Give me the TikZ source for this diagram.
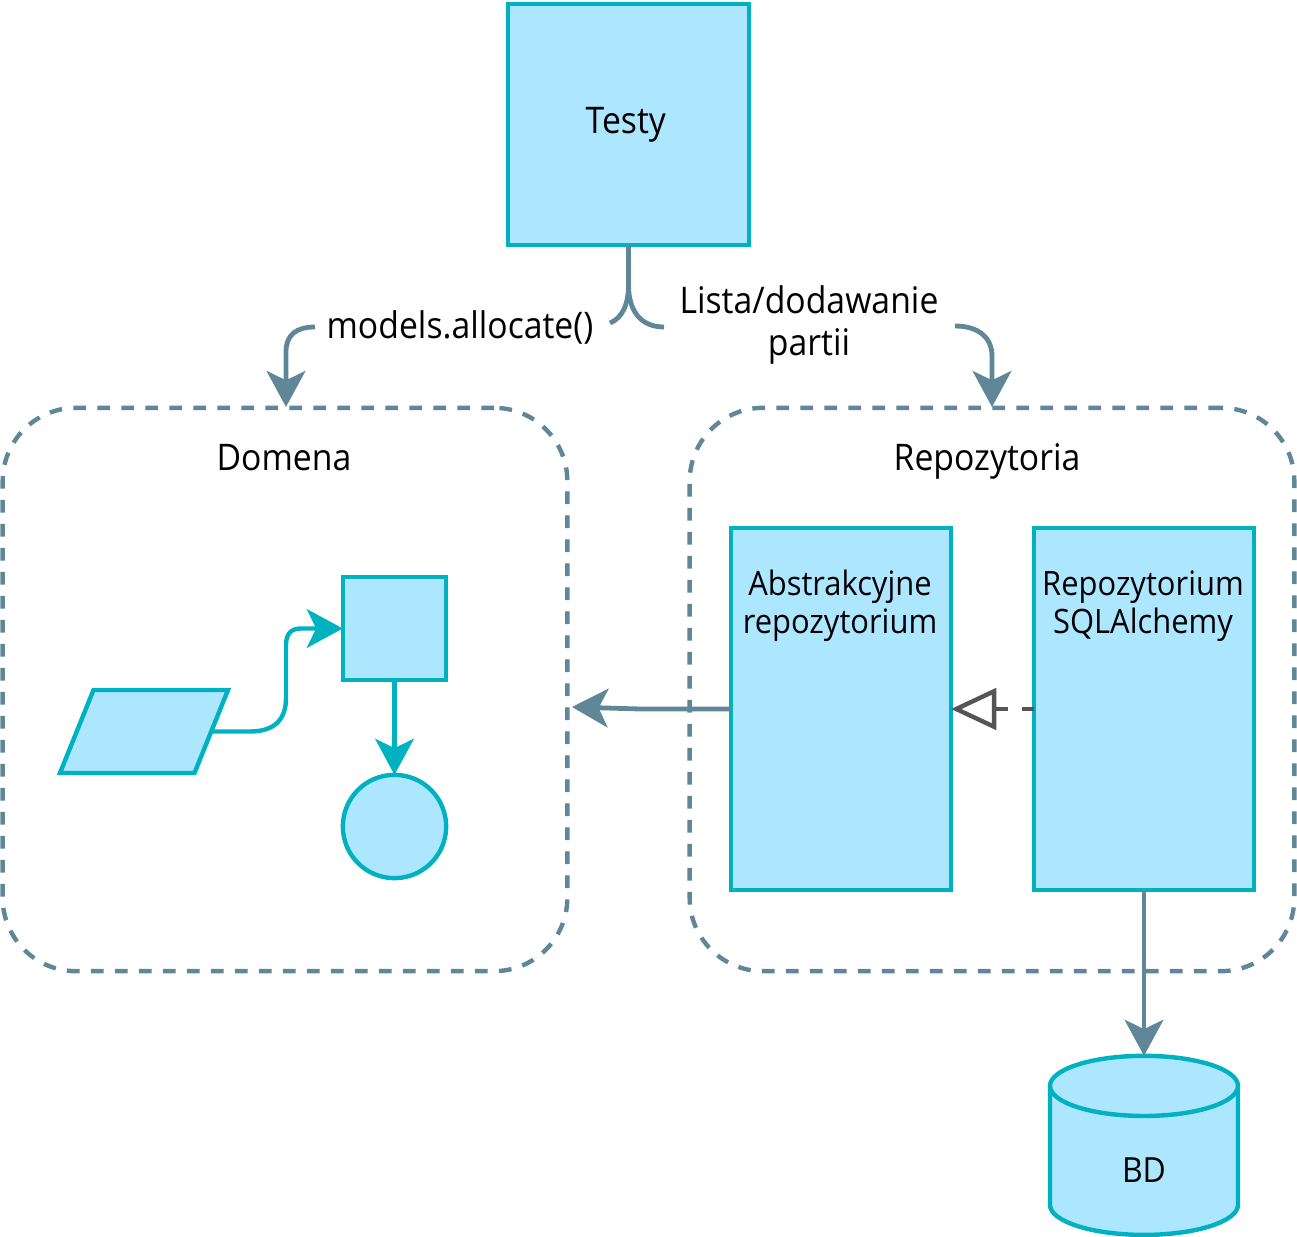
\documentclass[tikz,border=0pt]{standalone}
\usepackage{fontspec}
\setmainfont[FakeStretch=0.92]{Open Sans}
\usetikzlibrary{arrows.meta,shapes.geometric,positioning}
\definecolor{cyanline}{HTML}{00B2C1}
\definecolor{cyanfill}{HTML}{ADE6FF}
\definecolor{slate}{HTML}{5F8798}
\definecolor{grayline}{HTML}{555555}
\tikzset{
  pxu/.style={x=0.75pt,y=-0.75pt},
  filled/.style={draw=cyanline,fill=cyanfill,line width=3.3pt,outer sep=0pt,inner sep=0pt,align=center,text=black},
  biglabel/.style={font=\fontsize{27.5}{31.5}\selectfont,inner sep=0pt,align=center,text=black},
  boxlabel/.style={font=\fontsize{25.2}{28.5}\selectfont,inner sep=0pt,align=center,text=black},
  zone/.style={draw=slate,line width=3.3pt,rounded corners=55pt,dash pattern=on 9.5pt off 8.5pt,outer sep=0pt,inner sep=0pt},
  slatehead/.style={-{Stealth[length=27pt,width=29pt,inset=7pt,fill=slate]}},
  cyanhead/.style={-{Stealth[length=27pt,width=29pt,inset=7pt,fill=cyanline]}},
  slatearrow/.style={draw=slate,line width=3.6pt,slatehead},
  slateline/.style={draw=slate,line width=3.6pt},
  cyanarrow/.style={draw=cyanline,line width=3.3pt,cyanhead},
  realizes/.style={draw=grayline,line width=3.3pt,dash pattern=on 9pt off 10.5pt,-{Triangle[open,length=34pt,width=31pt,fill=white]}},
}
\begin{document}
\begin{tikzpicture}[pxu]
\useasboundingbox (0,0) rectangle (1297,1237);

% containers
\node[zone,minimum width=423.5pt,minimum height=422.5pt] (domena) at (285,689.5) {};
\node[zone,minimum width=453.5pt,minimum height=422.5pt] (repo) at (992,689.5) {};
\node[biglabel] (domenat) at (284,458) {Domena};
\node[biglabel] (repot) at (987,461) {Repozytoria};

% boxes
\node[filled,minimum width=181pt,minimum height=181pt,font=\fontsize{27.5}{31.5}\selectfont] (testy) at (628.5,124.5) {\hspace*{-4pt}\raisebox{2.5pt}{Testy}};
\node[filled,minimum width=165pt,minimum height=271.5pt] (abs) at (841,709) {};
\node[filled,minimum width=165pt,minimum height=271.5pt] (sql) at (1144,709) {};
\node[boxlabel] (abst) at (840,606) {Abstrakcyjne\\repozytorium};
\node[boxlabel] (sqlt) at (1143,606) {Repozytorium\\SQLAlchemy};

% domain shapes
\node[filled,minimum width=77.5pt,minimum height=77.5pt] (sq) at (394.5,628.5) {};
\node[filled,circle,minimum size=77.5pt] (circ) at (394.5,826.5) {};
\coordinate (pa) at (93.5,690);
\coordinate (pb) at (228,690);
\coordinate (pc) at (194.5,773);
\coordinate (pd) at (60,773);
\draw[draw=cyanline,fill=cyanfill,line width=3.3pt,miter limit=10] (pa) -- (pb) -- (pc) -- (pd) -- cycle;
\coordinate (paraout) at (213,731.5);

% database
\node[filled,cylinder,shape border rotate=90,aspect=1.37,cylinder uses custom fill,cylinder body fill=cyanfill,cylinder end fill=cyanfill,minimum width=141pt,minimum height=134.3pt,font=\fontsize{26}{28.5}\selectfont] (bd) at (1144,1161.5) {\rule{0pt}{32.1pt}BD};

% labels
\node[biglabel] (alloc) at (460,327) {models.allocate()};
\node[biglabel] (lista) at (809,325) {Lista/dodawanie\\partii};

% connectors
\coordinate (jun) at (628.5,285);
\coordinate (junl) at (610,323);
\coordinate (junr) at (664,327);
\coordinate (allocout) at (315,327);
\coordinate (listaout) at (955,326);
\coordinate (domtop) at (286,407);
\coordinate (repotop) at (992,407);
\coordinate (domeast) at (572,707);

\draw[slateline] (testy.south) -- (jun);
\draw[slateline] (jun) .. controls (628.5,305) and (622,318) .. (junl);
\draw[slateline] (jun) .. controls (628.5,310) and (640,327) .. (junr);
\draw[slatearrow] (allocout) .. controls (296,327) and (286,335) .. (286,352) -- (domtop);
\draw[slatearrow] (listaout) .. controls (979,326) and (992,338) .. (992,356) -- (repotop);
\draw[slatearrow] (abs.west) -- (640,709) -- (domeast);
\draw[realizes] (sql.west) -- (abs.east);
\draw[slatearrow] (sql.south) -- (bd.top);

\draw[cyanarrow] (paraout) -- (250,731.5) .. controls (276,731.5) and (286,718) .. (286,698) -- (286,645) .. controls (286,634) and (291,628.5) .. (301,628.5) -- (sq.west);
\draw[cyanarrow] (sq.south) -- (circ.north);
\end{tikzpicture}
\end{document}
